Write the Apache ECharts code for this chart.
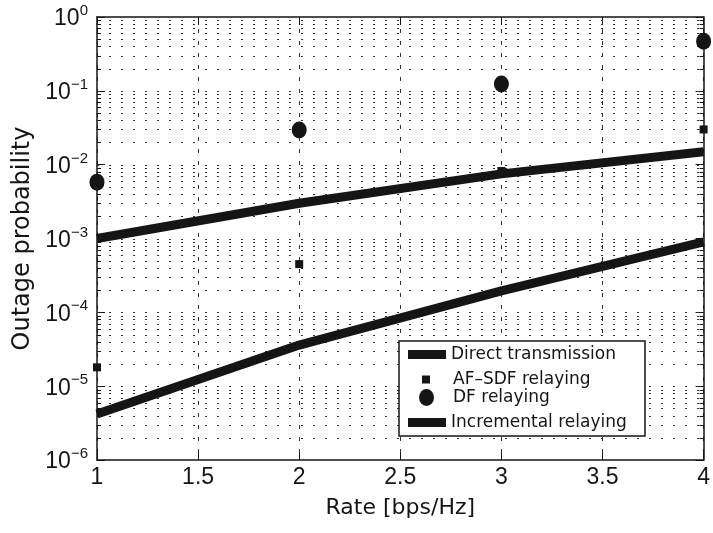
<!DOCTYPE html>
<html>
<head>
<meta charset="utf-8">
<script src="https://cdn.jsdelivr.net/npm/echarts@6/dist/echarts.min.js"></script>
<style>
html,body{margin:0;padding:0;background:#fff;}
#c{width:713px;height:533px;}
</style>
</head>
<body>
<div id="c"></div>
<script>
// ---- data ----
const rates = [1, 2, 3, 4];
const directTransmission = [1.0e-3, 3.0e-3, 7.5e-3, 1.5e-2];
const afSdfRelaying = [1.8e-5, 4.5e-4, 8.2e-3, 3.0e-2];
const dfRelaying = [5.8e-3, 2.95e-2, 0.124, 0.47];
const incrementalRelaying = [4.2e-6, 3.6e-5, 1.95e-4, 9.0e-4];
const seriesNames = ['Direct transmission', 'AF\u2013SDF relaying', 'DF relaying', 'Incremental relaying'];
const xTickValues = [1, 1.5, 2, 2.5, 3, 3.5, 4];
const yDecades = [1e-6, 1e-5, 1e-4, 1e-3, 1e-2, 1e-1, 1];
const minorMantissas = [2, 3, 4, 5, 6, 7, 8, 9];

const pairs = arr => rates.map((r, i) => [r, arr[i]]);
const xMin = xTickValues[0], xMax = xTickValues[xTickValues.length - 1];

// grid levels (all minor levels + interior decades)
const gridLevels = [];
for (let d = 0; d < yDecades.length - 1; d++) {
  if (d > 0) gridLevels.push(yDecades[d]);
  minorMantissas.forEach(m => gridLevels.push(m * yDecades[d]));
}
const minorLevels = [];
for (let d = 0; d < yDecades.length - 1; d++) minorMantissas.forEach(m => minorLevels.push(m * yDecades[d]));

const FONT_NUM = "'Liberation Sans Narrow', 'Liberation Sans', sans-serif";
const FONT_TXT = "'DejaVu Sans', sans-serif";
const INK = '#151515';
const ELLIPSE = 'path://M0,8.5A7.5,8.5 0 1 1 15,8.5A7.5,8.5 0 1 1 0,8.5Z';

const supMap = v => {
  const e = Math.round(Math.log10(v));
  const s = e < 0 ? '\u2212' + (-e) : String(e);
  return '{b|10}{s|' + s + '}';
};

const chart = echarts.init(document.getElementById('c'), null, {renderer: 'canvas'});

const axisLineStyle = {color: INK, width: 1.5};

const legendRow = (name, top, left, icon, w, h, pad) => ({
  data: [{name: name, icon: icon}],
  left: left, top: top, orient: 'vertical',
  itemWidth: w, itemHeight: h, padding: 0, z: 60,
  selectedMode: false,
  textStyle: {fontFamily: FONT_TXT, fontSize: 17, color: INK, padding: [0, 0, 0, pad]},
  itemStyle: {color: INK, opacity: 1}
});

chart.setOption({
  animation: false,
  backgroundColor: '#fff',
  grid: {left: 97, right: 7, top: 17, bottom: 73, containLabel: false},
  xAxis: [{
    type: 'value', min: xMin, max: xMax, interval: 0.5,
    name: 'Rate [bps/Hz]', nameLocation: 'middle', nameGap: 37,
    nameTextStyle: {fontFamily: FONT_TXT, fontSize: 22, color: INK},
    axisLine: {lineStyle: axisLineStyle},
    axisTick: {inside: true, length: 8, lineStyle: {color: INK, width: 1}},
    axisLabel: {fontFamily: FONT_NUM, fontSize: 23, color: INK, margin: 6},
    splitLine: {show: true, lineStyle: {color: '#333', type: [4, 8], width: 1}}
  }, {
    type: 'value', min: xMin, max: xMax, interval: 0.5, position: 'top',
    axisLine: {show: true, lineStyle: axisLineStyle},
    axisTick: {show: true, inside: true, length: 8, lineStyle: {color: INK, width: 1}},
    axisLabel: {show: false}, splitLine: {show: false}
  }],
  yAxis: [{
    type: 'log', logBase: 10, min: 1e-6, max: 1, interval: 1,
    name: 'Outage probability', nameLocation: 'middle', nameGap: 60,
    nameTextStyle: {fontFamily: FONT_TXT, fontSize: 24, color: INK},
    axisLine: {show: true, lineStyle: axisLineStyle},
    axisTick: {show: true, inside: true, length: 8, lineStyle: {color: INK, width: 1}},
    axisLabel: {
      margin: 9, formatter: supMap,
      rich: {
        b: {fontFamily: FONT_NUM, fontSize: 23, color: INK, padding: [4, 0, 0, 0]},
        s: {fontFamily: FONT_NUM, fontSize: 15, color: INK, verticalAlign: 'top'}
      }
    },
    splitLine: {show: false}
  }, {
    type: 'log', logBase: 10, min: 1e-6, max: 1, interval: 1, position: 'right',
    axisLine: {show: true, lineStyle: axisLineStyle},
    axisTick: {show: true, inside: true, length: 8, lineStyle: {color: INK, width: 1}},
    axisLabel: {show: false}, splitLine: {show: false}
  }],
  legend: [
    legendRow(seriesNames[0], 346, 408, 'rect', 38, 9, 0),
    legendRow(seriesNames[1], 371, 422, 'rect', 8, 8, 18),
    legendRow(seriesNames[2], 389, 419, ELLIPSE, 15, 17, 14),
    legendRow(seriesNames[3], 414, 408, 'rect', 38, 9, 0)
  ],
  graphic: [{
    type: 'rect', z: 50, silent: true,
    shape: {x: 399, y: 341, width: 246, height: 95},
    style: {fill: '#fff', stroke: INK, lineWidth: 1.5}
  }],
  series: [
    {
      name: '_grid', type: 'custom', silent: true, z: 1,
      data: gridLevels.map(v => [xMin, v]),
      encode: {x: 0, y: 1},
      renderItem: (params, api) => {
        const v = api.value(1);
        const p1 = api.coord([xMin, v]);
        const p2 = api.coord([xMax, v]);
        const y = Math.round(p1[1]) + 0.5;
        return {type: 'line', shape: {x1: p1[0], y1: y, x2: p2[0], y2: y},
          style: {stroke: '#333', lineWidth: 1, lineDash: [2, 10]}};
      }
    },
    {
      name: '_ticks', type: 'custom', silent: true, z: 3,
      data: minorLevels.map(v => [xMin, v]),
      encode: {x: 0, y: 1},
      renderItem: (params, api) => {
        const v = api.value(1);
        const p1 = api.coord([xMin, v]);
        const p2 = api.coord([xMax, v]);
        const y = Math.round(p1[1]) + 0.5;
        return {type: 'group', children: [
          {type: 'line', shape: {x1: p1[0], y1: y, x2: p1[0] + 4, y2: y}, style: {stroke: INK, lineWidth: 1}},
          {type: 'line', shape: {x1: p2[0] - 4, y1: y, x2: p2[0], y2: y}, style: {stroke: INK, lineWidth: 1}}
        ]};
      }
    },
    {
      name: seriesNames[0], type: 'line', data: pairs(directTransmission),
      showSymbol: false, symbol: 'none', z: 4,
      lineStyle: {color: INK, width: 9, opacity: 1}, itemStyle: {color: INK, opacity: 1}
    },
    {
      name: seriesNames[3], type: 'line', data: pairs(incrementalRelaying),
      showSymbol: false, symbol: 'none', z: 4,
      lineStyle: {color: INK, width: 9, opacity: 1}, itemStyle: {color: INK, opacity: 1}
    },
    {
      name: seriesNames[1], type: 'scatter', data: pairs(afSdfRelaying),
      symbol: 'rect', symbolSize: 8, z: 5, itemStyle: {color: INK, opacity: 1}
    },
    {
      name: seriesNames[2], type: 'scatter', data: pairs(dfRelaying),
      symbol: ELLIPSE, symbolSize: [15, 17], z: 5, itemStyle: {color: INK, opacity: 1}
    }
  ]
});
</script>
</body>
</html>
